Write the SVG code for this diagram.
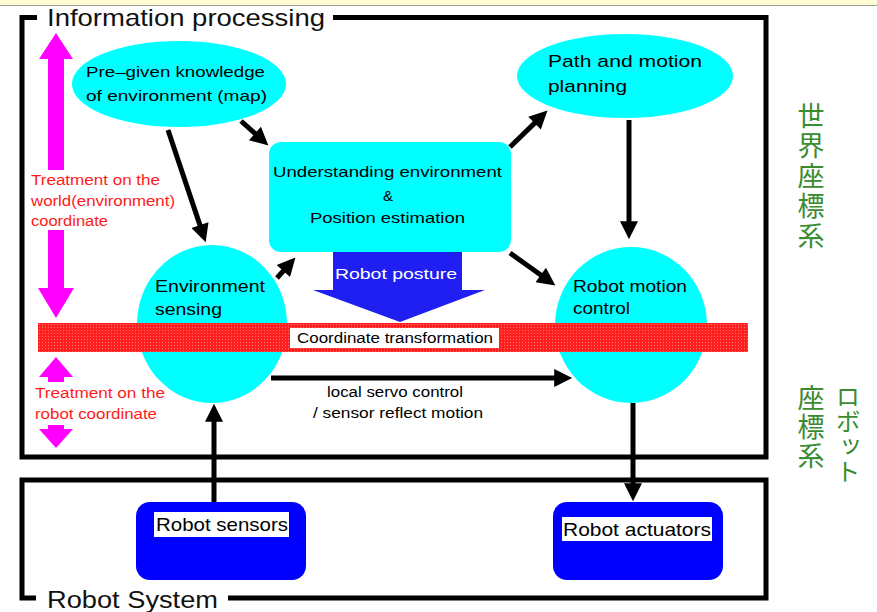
<svg xmlns="http://www.w3.org/2000/svg" width="877" height="612" viewBox="0 0 877 612">
<style>
text{font-family:"Liberation Sans",Arial,sans-serif;}
.frame{fill:none;stroke:#000;stroke-width:5;}
.cyan{fill:#00ffff;}
.lbl{font-size:15px;fill:#000;}
.big{font-size:17px;fill:#000;}
.red{font-size:14px;fill:#ff1a1a;}
.mag{fill:#ff00ff;}
.conn{fill:none;stroke:#000;stroke-width:5;marker-end:url(#ah);}
.jp{font-family:"Noto Sans CJK JP","Noto Sans CJK SC",sans-serif;fill:#3b8b30;writing-mode:vertical-rl;}
.blue{fill:#0000ff;}
</style>
<defs>
<marker id="ah" viewBox="0 0 10 10" refX="6" refY="5" markerWidth="4" markerHeight="3.6" orient="auto" markerUnits="strokeWidth">
<path d="M0,0 L10,5 L0,10 z" fill="#000"/>
</marker>
<pattern id="dots" width="3" height="3" patternUnits="userSpaceOnUse">
<rect width="3" height="3" fill="#ff2020"/>
<rect width="1" height="1" fill="#ff7070"/>
</pattern>
</defs>
<rect x="0" y="0" width="877" height="612" fill="#ffffff"/>
<rect x="0" y="0" width="877" height="5" fill="#fffbd2"/>
<line x1="0" y1="5.5" x2="877" y2="5.5" stroke="#a0a090" stroke-width="1"/>

<g id="info-frame">
<path class="frame" d="M37,17.5 H22 V457 H766 V17.5 H333"/>
<text x="47" y="26" font-size="24" textLength="278" lengthAdjust="spacingAndGlyphs" fill="#111">Information processing</text>
</g>
<g id="robot-system-frame">
<path class="frame" d="M36,598 H22 V480 H766 V598 H228"/>
<text x="47" y="608" font-size="23" textLength="171" lengthAdjust="spacingAndGlyphs" fill="#111">Robot System</text>
</g>

<g id="world-arrow">
<polygon class="mag" points="56,33 73,59 64,59 64,170 48,170 48,59 39,59"/>
<polygon class="mag" points="48,230 64,230 64,288 74,288 56,318 38,288 48,288"/>
<text class="red" x="31" y="185" textLength="129" lengthAdjust="spacingAndGlyphs">Treatment on the</text>
<text class="red" x="31" y="206" textLength="144" lengthAdjust="spacingAndGlyphs">world(environment)</text>
<text class="red" x="31" y="226" textLength="77" lengthAdjust="spacingAndGlyphs">coordinate</text>
</g>
<g id="robot-arrow">
<polygon class="mag" points="56,357 73,377 64,377 64,382 48,382 48,377 39,377"/>
<polygon class="mag" points="48,425 64,425 64,429 73,429 56,448 39,429 48,429"/>
<text class="red" x="35" y="398" textLength="130" lengthAdjust="spacingAndGlyphs">Treatment on the</text>
<text class="red" x="35" y="419" textLength="122" lengthAdjust="spacingAndGlyphs">robot coordinate</text>
</g>

<g id="pregiven">
<ellipse class="cyan" cx="179" cy="84" rx="107" ry="43"/>
<text class="lbl" x="86" y="77" textLength="179" lengthAdjust="spacingAndGlyphs">Pre–given knowledge</text>
<text class="lbl" x="86" y="101" textLength="181" lengthAdjust="spacingAndGlyphs">of environment (map)</text>
</g>
<g id="path-planning">
<ellipse class="cyan" cx="625" cy="76" rx="108" ry="42"/>
<text class="big" x="548" y="67" textLength="154" lengthAdjust="spacingAndGlyphs">Path and motion</text>
<text class="big" x="548" y="92" textLength="79" lengthAdjust="spacingAndGlyphs">planning</text>
</g>
<g id="understanding">
<rect class="cyan" x="269" y="142" width="242" height="110" rx="12"/>
<text class="lbl" x="387.5" y="177" text-anchor="middle" textLength="229" lengthAdjust="spacingAndGlyphs">Understanding environment</text>
<text class="lbl" x="388" y="201" text-anchor="middle">&amp;</text>
<text class="lbl" x="387.5" y="223" text-anchor="middle" textLength="155" lengthAdjust="spacingAndGlyphs">Position estimation</text>
</g>
<g id="robot-posture">
<polygon fill="#1f1ff2" points="333,252 462,252 462,290 485,290 400,322 313,290 333,290"/>
<text x="396" y="279" font-size="15" fill="#fff" text-anchor="middle" textLength="122" lengthAdjust="spacingAndGlyphs">Robot posture</text>
</g>
<g id="env-sensing">
<ellipse class="cyan" cx="212" cy="324" rx="75" ry="79"/>
<text class="big" x="155" y="292" textLength="110" lengthAdjust="spacingAndGlyphs">Environment</text>
<text class="big" x="155" y="315" textLength="67" lengthAdjust="spacingAndGlyphs">sensing</text>
</g>
<g id="motion-control">
<ellipse class="cyan" cx="631" cy="325" rx="76" ry="78"/>
<text class="big" x="573" y="292" textLength="114" lengthAdjust="spacingAndGlyphs">Robot motion</text>
<text class="big" x="573" y="314" textLength="57" lengthAdjust="spacingAndGlyphs">control</text>
</g>
<g id="coord-transform">
<rect x="38" y="323" width="710" height="29" fill="url(#dots)"/>
<rect x="290" y="328" width="209" height="20" fill="#fff"/>
<text x="297" y="343" font-size="14" fill="#000" textLength="196" lengthAdjust="spacingAndGlyphs">Coordinate transformation</text>
</g>
<g id="sensors">
<rect class="blue" x="136" y="502" width="170" height="78" rx="14"/>
<rect x="154" y="512" width="135" height="25" fill="#fff"/>
<text x="156" y="531" font-size="19" fill="#000" textLength="132" lengthAdjust="spacingAndGlyphs">Robot sensors</text>
</g>
<g id="actuators">
<rect class="blue" x="553" y="502" width="170" height="78" rx="14"/>
<rect x="562" y="517" width="150" height="24" fill="#fff"/>
<text x="563" y="536" font-size="19" fill="#000" textLength="148" lengthAdjust="spacingAndGlyphs">Robot actuators</text>
</g>

<g id="connectors">
<path class="conn" d="M168,130 L203.4,235.4"/>
<path class="conn" d="M241,121 L263,140.7"/>
<path class="conn" d="M277,278 L290.6,262.9"/>
<path class="conn" d="M510,147 L542.3,115.6"/>
<path class="conn" d="M629,120 L629,232"/>
<path class="conn" d="M510,253 L549.5,281.3"/>
<path class="conn" d="M271,378 L565,378"/>
<path class="conn" d="M214,502 L214,411"/>
<path class="conn" d="M633,403 L633,494"/>
<text x="395" y="397" font-size="14" fill="#000" text-anchor="middle" textLength="136" lengthAdjust="spacingAndGlyphs">local servo control</text>
<text x="398" y="418" font-size="14" fill="#000" text-anchor="middle" textLength="170" lengthAdjust="spacingAndGlyphs">/ sensor reflect motion</text>
</g>

<g id="world-coord-label">
<text class="jp" x="811" y="102" font-size="27" letter-spacing="3">世界座標系</text>
</g>
<g id="robot-coord-label">
<text class="jp" x="848" y="384" font-size="25" letter-spacing="0">ロボット</text>
<text class="jp" x="811" y="384" font-size="27" letter-spacing="2">座標系</text>
</g>
</svg>
